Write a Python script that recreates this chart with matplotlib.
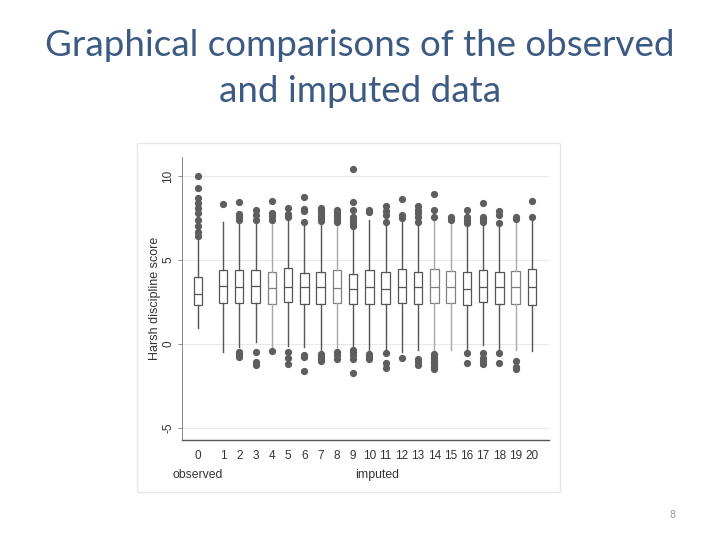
import matplotlib
matplotlib.use("Agg")
import matplotlib.pyplot as plt
from matplotlib.patches import Rectangle

# ---- data ----
labels = [str(i) for i in range(21)]
q1 = [2.32, 2.46, 2.46, 2.46, 2.40, 2.52, 2.36, 2.36, 2.42, 2.36, 2.36,
      2.36, 2.42, 2.36, 2.42, 2.42, 2.32, 2.48, 2.40, 2.40, 2.34]
med = [2.98, 3.45, 3.37, 3.45, 3.35, 3.41, 3.37, 3.37, 3.33, 3.25, 3.37,
       3.27, 3.41, 3.37, 3.41, 3.37, 3.25, 3.37, 3.37, 3.41, 3.41]
q3 = [3.99, 4.39, 4.39, 4.39, 4.27, 4.50, 4.25, 4.30, 4.39, 4.19, 4.39,
      4.27, 4.44, 4.27, 4.44, 4.35, 4.27, 4.39, 4.27, 4.35, 4.44]
whi_lo = [0.97, -0.50, -0.16, 0.14, -0.40, -0.12, -0.16, -0.46, -0.30, -0.28, -0.40,
          -0.56, -0.46, -0.36, -0.52, -0.36, -0.28, -0.06, -0.34, -0.36, -0.42]
whi_hi = [6.29, 7.24, 7.24, 7.20, 7.18, 7.48, 7.18, 7.14, 7.20, 6.88, 7.38,
          7.08, 7.28, 7.14, 7.38, 7.20, 7.14, 7.20, 7.18, 7.20, 7.38]
outliers = [
    [10.0, 9.3, 8.67, 8.37, 8.08, 7.78, 7.38, 7.02, 6.65, 6.45],
    [8.35],
    [8.43, 7.74, 7.54, 7.38, -0.46, -0.61, -0.79],
    [7.98, 7.68, 7.38, -0.5, -1.05, -1.25],
    [8.49, 7.8, 7.6, 7.38, -0.4],
    [8.07, 7.74, 7.58, -0.5, -0.85, -1.19],
    [8.73, 8.02, 7.92, 7.28, -0.65, -0.75, -1.61],
    [8.1, 7.95, 7.8, 7.65, 7.5, 7.35, -0.6, -0.75, -0.9, -1.0],
    [8.0, 7.85, 7.7, 7.55, 7.4, 7.28, -0.46, -0.65, -0.9],
    [10.4, 8.43, 7.98, 7.58, 7.38, 7.18, 7.02, -0.34, -0.46, -0.65, -0.89, -1.71],
    [8.0, 7.85, -0.6, -0.75, -0.9],
    [8.2, 7.9, 7.68, 7.28, -0.56, -1.11, -1.45],
    [8.61, 7.68, 7.48, -0.81],
    [8.2, 7.98, 7.78, 7.54, 7.28, -0.9, -1.05, -1.25],
    [8.93, 8.0, 7.54, -0.6, -0.75, -0.9, -1.05, -1.2, -1.35, -1.5],
    [7.54, 7.38],
    [8.0, 7.58, 7.38, 7.22, -0.56, -1.15],
    [8.39, 7.58, 7.42, 7.28, -0.56, -0.86, -1.02, -1.2],
    [7.9, 7.68, 7.22, -0.56, -1.15],
    [7.54, 7.44, -1.02, -1.36, -1.5],
    [8.49, 7.58],
]
light = [4, 8, 14, 15, 19]
yticks = [-5, 0, 5, 10]
title_lines = ["Graphical comparisons of the observed", "and imputed data"]

positions = [-0.55] + list(range(1, 21))

fig = plt.figure(figsize=(7.2, 5.4), dpi=100)
fig.patch.set_facecolor("white")

# title
fig.text(0.5, 1 - 45 / 540, title_lines[0], ha="center", va="center",
         fontsize=26.5, color="#3c5a82", family="Lato")
fig.text(0.5, 1 - 92 / 540, title_lines[1], ha="center", va="center",
         fontsize=26.5, color="#3c5a82", family="Lato")
fig.text(0.934, 0.046, "8", ha="center", va="center", fontsize=7, color="#999999")

# embedded picture frame
frame = Rectangle((0.190, 0.0889), 0.5875, 0.646, transform=fig.transFigure,
                  facecolor="white", edgecolor="#e6e6e6", lw=1.0, zorder=-5)
fig.add_artist(frame)

ax = fig.add_axes([0.2528, 0.1852, 0.5097, 0.524])
ax.set_facecolor("none")
ax.set_zorder(2)

stats = []
for i in range(21):
    stats.append(dict(med=med[i], q1=q1[i], q3=q3[i], whislo=whi_lo[i],
                      whishi=whi_hi[i], fliers=outliers[i], label=labels[i]))

for i in range(21):
    col = "#a8a8a8" if i in light else "#555555"
    bcol = "#808080" if i in light else "#555555"
    ax.bxp([stats[i]], positions=[positions[i]], widths=0.52, showcaps=False,
           patch_artist=True, manage_ticks=False,
           boxprops=dict(facecolor="white", edgecolor=bcol, lw=0.9),
           medianprops=dict(color=bcol, lw=0.9),
           whiskerprops=dict(color=col, lw=1.0),
           flierprops=dict(marker="o", markerfacecolor="#5e5e5e",
                           markeredgecolor="#5e5e5e", markersize=4.2))

ax.set_xlim(-1.52, 21.05)
ax.set_ylim(-5.71, 11.13)
ax.set_yticks(yticks)
ax.set_yticklabels([str(v) for v in yticks], rotation=90, va="center",
                   fontsize=8.5, color="#333333", family="Liberation Sans")
ax.set_xticks(positions)
ax.set_xticklabels(labels, fontsize=8.5, color="#333333", family="Liberation Sans")
ax.tick_params(axis="x", length=0, pad=7)
ax.tick_params(axis="y", length=3, width=0.6, color="#777777", pad=2.5)
ax.grid(axis="y", color="#e8e8e8", lw=0.8)
ax.set_axisbelow(True)
for s in ["top", "right"]:
    ax.spines[s].set_visible(False)
ax.spines["left"].set_color("#888888")
ax.spines["left"].set_linewidth(0.7)
ax.spines["bottom"].set_color("#555555")
ax.spines["bottom"].set_linewidth(1.0)
ax.set_ylabel("Harsh discipline score", fontsize=9, color="#333333",
              family="Liberation Sans", labelpad=1)

ax.text(positions[0], -0.125, "observed", transform=ax.get_xaxis_transform(),
        ha="center", va="center", fontsize=8.8, color="#333333", family="Liberation Sans")
ax.text(10.5, -0.125, "imputed", transform=ax.get_xaxis_transform(),
        ha="center", va="center", fontsize=8.8, color="#333333", family="Liberation Sans")

fig.savefig("out.png", dpi=100)
